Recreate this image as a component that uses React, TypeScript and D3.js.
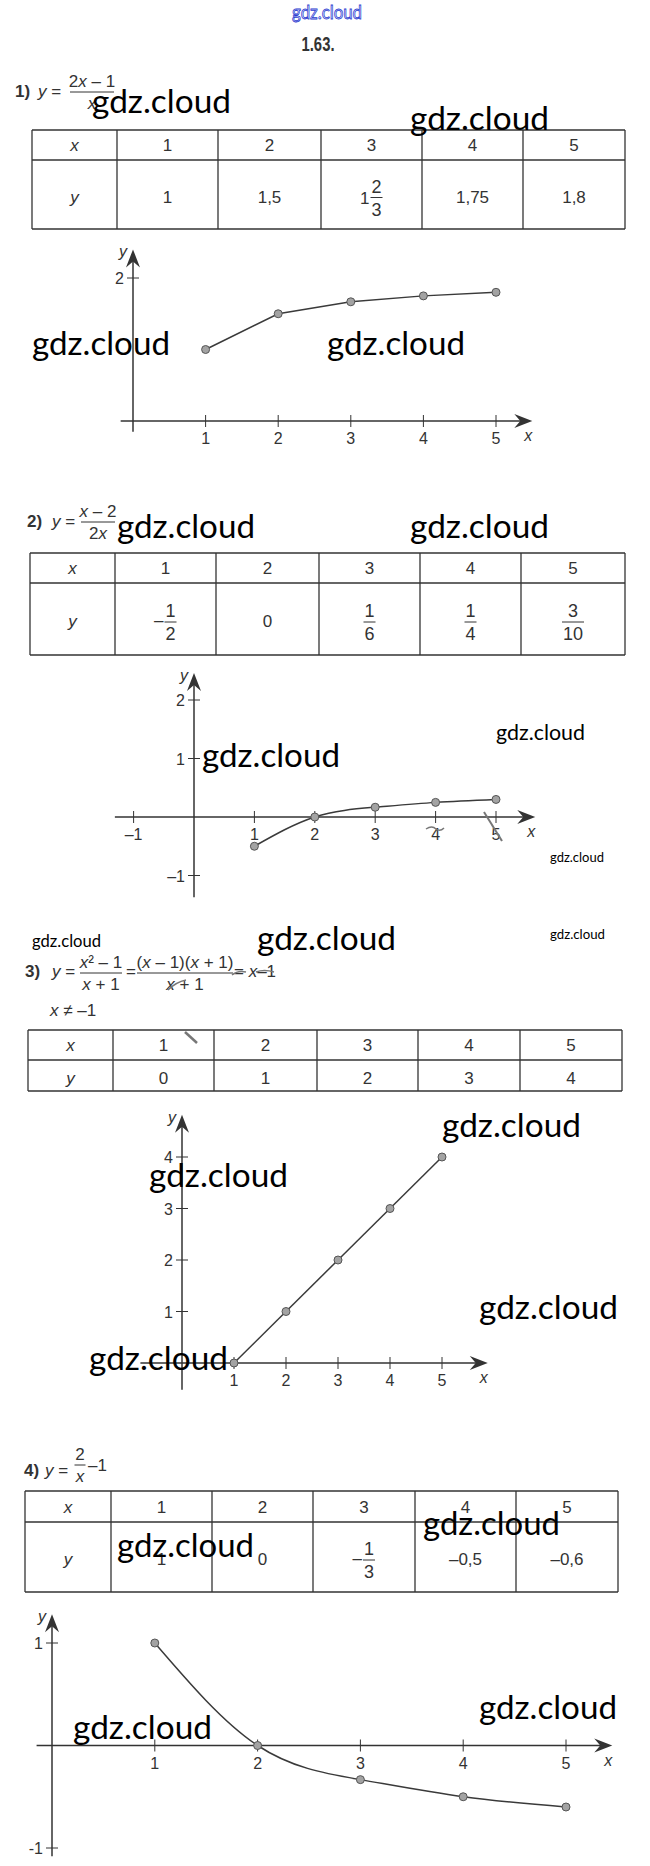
import React from 'react';
import * as d3 from 'd3';

// values (exercise 1.63)
const xValues = [1, 2, 3, 4, 5];

const yValues1 = [1, 1.5, 1.667, 1.75, 1.8];
const yLabels1 = ['1', '1,5', '1 2/3', '1,75', '1,8'];
const yValues2 = [-0.5, 0, 0.167, 0.25, 0.3];
const yLabels2 = ['–1/2', '0', '1/6', '1/4', '3/10'];
const yValues3 = [0, 1, 2, 3, 4];
const yLabels3 = ['0', '1', '2', '3', '4'];
const yValues4 = [1, 0, -0.333, -0.5, -0.6];
const yLabels4 = ['1', '0', '–1/3', '–0,5', '–0,6'];

const xTicks1 = [1, 2, 3, 4, 5];
const yTicks1 = [2];
const xTicks2 = [-1, 1, 2, 3, 4, 5];
const yTicks2 = [2, 1, -1];
const xTicks3 = [1, 2, 3, 4, 5];
const yTicks3 = [1, 2, 3, 4];
const xTicks4 = [1, 2, 3, 4, 5];
const yTicks4 = [1, -1];

const FONT = "'Liberation Sans Narrow', 'Arial Narrow', 'Liberation Sans', Arial, sans-serif";
const WM_FONT = "Lato, 'Open Sans', sans-serif";
const INK = '#333';

// graph placement on the page
const graphs = [
  { ys: yValues1, xTicks: xTicks1, yTicks: yTicks1, xRange: [133, 496], yDom: [0, 2], yRange: [421, 278],
    xExt: [-0.17, 5.5], yExt: [-0.15, 2.4], curve: d3.curveLinear, minus: '–' },
  { ys: yValues2, xTicks: xTicks2, yTicks: yTicks2, xRange: [194, 496], yDom: [0, 2], yRange: [817, 700],
    xExt: [-1.31, 5.65], yExt: [-1.37, 2.46], curve: d3.curveNatural, minus: '–' },
  { ys: yValues3, xTicks: xTicks3, yTicks: yTicks3, xRange: [182, 442], yDom: [0, 4], yRange: [1363, 1157],
    xExt: [-0.8, 5.88], yExt: [-0.52, 4.82], curve: d3.curveLinear, minus: '–' },
  { ys: yValues4, xTicks: xTicks4, yTicks: yTicks4, xRange: [52, 566], yDom: [-1, 1], yRange: [1848, 1643],
    xExt: [-0.15, 5.45], yExt: [-1.08, 1.28], curve: d3.curveNatural, minus: '-' },
];

const tables = [
  { labels: yLabels1, cols: [32, 117, 218, 321, 422, 523, 625], rows: [130, 160, 229] },
  { labels: yLabels2, cols: [30, 115, 216, 319, 420, 521, 625], rows: [553, 583, 655] },
  { labels: yLabels3, cols: [28, 113, 214, 317, 418, 520, 622], rows: [1030, 1060, 1091] },
  { labels: yLabels4, cols: [25, 111, 212, 313, 415, 516, 618], rows: [1491, 1522, 1592] },
];

// x, baseline, width, size
const watermarks = [
  [92, 113, 139, 32], [410, 130, 139, 32], [32, 355, 138, 32], [327, 355, 138, 32],
  [117, 538, 138, 32], [410, 538, 139, 32], [202, 767, 138, 32], [496, 740, 89, 21],
  [550, 862, 54, 13], [32, 947, 69, 18], [257, 950, 139, 32], [550, 939, 55, 13],
  [442, 1137, 139, 32], [149, 1187, 139, 32], [479, 1319, 139, 32], [89, 1370, 139, 32],
  [117, 1557, 137, 32], [423, 1535, 137, 32], [73, 1739, 139, 32], [479, 1719, 138, 32],
];

function mathText(s: string) {
  return s.split(/([a-z])/).filter(p => p !== '').map((p, i) =>
    /^[a-z]$/.test(p) ? <tspan key={i} fontStyle="italic">{p}</tspan> : <tspan key={i}>{p}</tspan>
  );
}

function Frac({ cx, bar, num, den, w, size = 17 }: any) {
  return (
    <g>
      <text x={cx} y={bar - 5} textAnchor="middle" fontSize={size}>{mathText(num)}</text>
      <line x1={cx - w / 2} x2={cx + w / 2} y1={bar} y2={bar} stroke={INK} strokeWidth={1} />
      <text x={cx} y={bar + size} textAnchor="middle" fontSize={size}>{mathText(den)}</text>
    </g>
  );
}

function Cell({ label, cx, cy }: any) {
  if (label.includes('/')) {
    let whole = '';
    let neg = false;
    let f = label;
    if (label.includes(' ')) {
      [whole, f] = label.split(' ');
    }
    if (f.startsWith('–')) {
      neg = true;
      f = f.slice(1);
    }
    const [num, den] = f.split('/');
    const w = Math.max(num.length, den.length) * 10 + 2;
    const fx = cx + (whole || neg ? 5 : 0);
    return (
      <g>
        {whole && <text x={fx - w / 2 - 1} y={cy + 7} textAnchor="end">{whole}</text>}
        {neg && <text x={fx - w / 2 - 1} y={cy + 5} textAnchor="end">–</text>}
        <Frac cx={fx} bar={cy + 1} num={num} den={den} w={w} size={18} />
      </g>
    );
  }
  return <text x={cx} y={cy + 6} textAnchor="middle">{mathText(label)}</text>;
}

function Table({ t }: any) {
  const header = ['x', ...xValues.map(String)];
  const values = ['y', ...t.labels];
  const [r0, r1, r2] = t.rows;
  const c = t.cols;
  return (
    <g fontSize={17}>
      {t.rows.map((r: number, i: number) => (
        <line key={'r' + i} x1={c[0]} x2={c[c.length - 1]} y1={r} y2={r} stroke={INK} strokeWidth={1.3} />
      ))}
      {c.map((cx: number, i: number) => (
        <line key={'c' + i} x1={cx} x2={cx} y1={r0} y2={r2} stroke={INK} strokeWidth={1.3} />
      ))}
      {header.map((h, i) => (
        <Cell key={'h' + i} label={h} cx={(c[i] + c[i + 1]) / 2} cy={(r0 + r1) / 2} />
      ))}
      {values.map((v, i) => (
        <Cell key={'v' + i} label={v} cx={(c[i] + c[i + 1]) / 2} cy={(r1 + r2) / 2 + 2} />
      ))}
    </g>
  );
}

function Graph({ g }: any) {
  const x = d3.scaleLinear().domain([0, 5]).range(g.xRange);
  const y = d3.scaleLinear().domain(g.yDom).range(g.yRange);
  const ox = x(0);
  const oy = y(0);
  const xa = x(g.xExt[0]);
  const xb = x(g.xExt[1]);
  const ya = y(g.yExt[0]);
  const yb = y(g.yExt[1]);
  const pts = xValues.map((v, i) => [v, g.ys[i]] as [number, number]);
  const line = d3.line<[number, number]>().x(d => x(d[0])).y(d => y(d[1])).curve(g.curve);
  const fmt = (v: number) => (v < 0 ? g.minus + Math.abs(v) : String(v));
  return (
    <g fontSize={16}>
      <line x1={xa} x2={xb - 8} y1={oy} y2={oy} stroke={INK} strokeWidth={1.5} />
      <path d={`M${xb},${oy}L${xb - 18},${oy - 7}L${xb - 12},${oy}L${xb - 18},${oy + 7}Z`} fill={INK} />
      <line x1={ox} x2={ox} y1={ya} y2={yb + 8} stroke={INK} strokeWidth={1.5} />
      <path d={`M${ox},${yb}L${ox - 7},${yb + 18}L${ox},${yb + 12}L${ox + 7},${yb + 18}Z`} fill={INK} />
      {g.xTicks.map((t: number) => (
        <g key={'xt' + t}>
          <line x1={x(t)} x2={x(t)} y1={oy - 6} y2={oy + 6} stroke={INK} strokeWidth={1} />
          <text x={x(t)} y={oy + 23} textAnchor="middle">{fmt(t)}</text>
        </g>
      ))}
      {g.yTicks.map((t: number) => (
        <g key={'yt' + t}>
          <line x1={ox - 6} x2={ox + 6} y1={y(t)} y2={y(t)} stroke={INK} strokeWidth={1} />
          <text x={ox - 9} y={y(t) + 6} textAnchor="end">{fmt(t)}</text>
        </g>
      ))}
      <text x={xb - 4} y={oy + 20} textAnchor="middle" fontStyle="italic">x</text>
      <text x={ox - 10} y={yb + 8} textAnchor="middle" fontStyle="italic">y</text>
      <path d={line(pts) || ''} fill="none" stroke="#3a3a3a" strokeWidth={1.5} />
      {pts.map((d, i) => (
        <circle key={i} cx={x(d[0])} cy={y(d[1])} r={4} fill="#a3a3a3" stroke="#555" strokeWidth={1} />
      ))}
    </g>
  );
}

export default function App() {
  return (
    <svg width={650} height={1866} style={{ position: 'absolute', left: 0, top: 0 }}
      fontFamily={FONT} fill={INK}>
      <rect width={650} height={1866} fill="#fff" />
      <text x={292} y={19} fontFamily={WM_FONT} fontSize={19} textLength={70} lengthAdjust="spacingAndGlyphs"
        fill="#e4e7ff" stroke="#2b3bcf" strokeWidth={0.8}>gdz.cloud</text>
      <text x={318} y={51} textAnchor="middle" fontSize={20} fontWeight="bold" textLength={33}
        lengthAdjust="spacingAndGlyphs">1.63.</text>

      {/* 1) */}
      <g fontSize={17}>
        <text x={15} y={97} fontWeight="bold">1)</text>
        <text x={38} y={97}>{mathText('y =')}</text>
        <Frac cx={92} bar={92} num="2x – 1" den="x" w={44} />
      </g>
      {/* 2) */}
      <g fontSize={17}>
        <text x={27} y={527} fontWeight="bold">2)</text>
        <text x={52} y={527}>{mathText('y =')}</text>
        <Frac cx={98} bar={522} num="x – 2" den="2x" w={34} />
      </g>
      {/* 3) */}
      <g fontSize={17}>
        <text x={25} y={977} fontWeight="bold">3)</text>
        <text x={52} y={977}>{mathText('y =')}</text>
        <Frac cx={101} bar={973} num="x² – 1" den="x + 1" w={42} />
        <text x={126} y={977}>=</text>
        <Frac cx={185} bar={973} num="(x – 1)(x + 1)" den="x + 1" w={96} />
        <text x={234} y={977}>{mathText('= x–1')}</text>
        <text x={50} y={1016}>{mathText('x ≠ –1')}</text>
        <path d="M168,990 q8,-8 18,-10 M232,975 q6,-5 14,-3 M256,972 q8,-3 18,0" fill="none" stroke="#777" strokeWidth={1.5} />
      </g>
      {/* 4) */}
      <g fontSize={17}>
        <text x={24} y={1476} fontWeight="bold">4)</text>
        <text x={45} y={1476}>{mathText('y =')}</text>
        <Frac cx={80} bar={1465} num="2" den="x" w={11} />
        <text x={88} y={1471}>–1</text>
      </g>

      {tables.map((t, i) => <Table key={i} t={t} />)}
      {graphs.map((g, i) => <Graph key={i} g={g} />)}

      {/* scan marks */}
      <path d="M426,829 q6,-4 10,0 q4,3 8,-1" fill="none" stroke="#777" strokeWidth={1.5} />
      <path d="M484,812 L502,841" stroke="#777" strokeWidth={2} />
      <path d="M185,1032 L197,1043" stroke="#777" strokeWidth={2.5} />

      {watermarks.map(([wx, wy, ww, ws], i) => (
        <text key={i} x={wx} y={wy} fontFamily={WM_FONT} fontSize={ws} fill="#000"
          textLength={ww} lengthAdjust="spacingAndGlyphs">gdz.cloud</text>
      ))}
    </svg>
  );
}
